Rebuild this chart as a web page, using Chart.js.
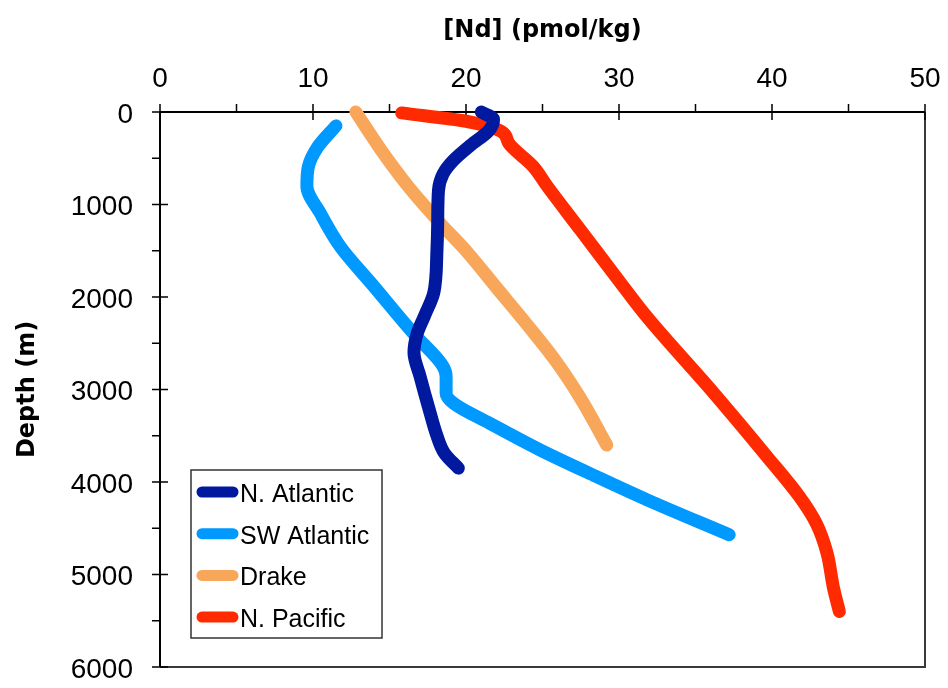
<!DOCTYPE html>
<html>
<head>
<meta charset="utf-8">
<script src="https://cdn.jsdelivr.net/npm/chart.js@4/dist/chart.umd.min.js"></script>
<style>
  body { margin: 0; background: #fff; }
  canvas { display: block; }
</style>
</head>
<body>
<canvas id="chart" width="948" height="688"></canvas>
<script>
"use strict";

// Nd concentration profiles, depth in metres
const seriesNames = ["N. Atlantic", "SW Atlantic", "Drake", "N. Pacific"];
const seriesColors = ["#00199e", "#0099ff", "#f8a65a", "#ff2a00"];

const nAtlanticDepth = [0, 80, 200, 360, 520, 670, 850, 1200, 1500, 1950, 2200, 2400, 2600, 2860, 3220, 3500, 3690, 3850];
const nAtlanticNd = [21.0, 21.8, 21.5, 20.3, 19.2, 18.5, 18.2, 18.15, 18.1, 17.9, 17.3, 16.8, 16.6, 17.0, 17.6, 18.1, 18.6, 19.5];

const swAtlanticDepth = [150, 380, 590, 800, 1100, 1460, 1870, 2400, 2750, 2860, 3040, 3150, 3370, 3650, 3940, 4190, 4570];
const swAtlanticNd = [11.5, 10.3, 9.7, 9.6, 10.5, 11.8, 13.9, 16.6, 18.5, 18.7, 18.7, 19.2, 21.6, 24.8, 28.5, 31.8, 37.2];

const drakeDepth = [0, 400, 800, 1200, 1500, 1900, 2300, 2700, 3100, 3600];
const drakeNd = [12.8, 14.4, 16.2, 18.3, 20.0, 22.0, 24.0, 25.9, 27.5, 29.2];

const nPacificDepth = [10, 100, 210, 340, 590, 800, 1280, 1890, 2210, 3040, 3730, 4160, 4450, 4770, 5130, 5400];
const nPacificNd = [15.8, 20.0, 22.3, 22.8, 24.4, 25.3, 27.5, 30.3, 31.8, 36.2, 39.7, 41.8, 42.9, 43.6, 44.0, 44.4];

const ndTicks = [0, 10, 20, 30, 40, 50];
const depthTicks = [0, 1000, 2000, 3000, 4000, 5000, 6000];

const profiles = [
  [nAtlanticNd, nAtlanticDepth],
  [swAtlanticNd, swAtlanticDepth],
  [drakeNd, drakeDepth],
  [nPacificNd, nPacificDepth],
];

function toPoints(nd, depth) {
  let pts = [];
  for (let i = 0; i < nd.length; i++) {
    pts.push({ x: nd[i], y: depth[i] });
  }
  return pts;
}

const datasets = profiles.map(function (p, i) {
  return {
    label: seriesNames[i],
    data: toPoints(p[0], p[1]),
    showLine: true,
    borderColor: seriesColors[i],
    backgroundColor: seriesColors[i],
    borderWidth: 13,
    borderCapStyle: "round",
    borderJoinStyle: "round",
    pointRadius: 0,
    cubicInterpolationMode: "monotone",
    clip: false,
  };
});

const labelFont = { family: "'Liberation Sans', Arial, sans-serif", size: 28 };
const titleFont = { family: "'DejaVu Sans', Verdana, sans-serif", size: 24, weight: "bold" };

// frame plus crossing major ticks and outside minor ticks
const axisFrame = {
  id: "axisFrame",
  beforeDatasetsDraw(chart) {
    const ctx = chart.ctx;
    const a = chart.chartArea;
    const x = chart.scales.x;
    const y = chart.scales.y;
    ctx.save();
    ctx.lineCap = "butt";

    ctx.strokeStyle = "#3a3a3a";
    ctx.lineWidth = 2;
    ctx.beginPath();
    ctx.moveTo(a.right, a.top);
    ctx.lineTo(a.right, a.bottom);
    ctx.lineTo(a.left, a.bottom);
    ctx.stroke();

    ctx.strokeStyle = "#000";
    ctx.beginPath();
    ctx.moveTo(a.left, a.bottom);
    ctx.lineTo(a.left, a.top);
    ctx.lineTo(a.right, a.top);
    ctx.stroke();

    ctx.lineWidth = 1.5;
    ctx.beginPath();
    for (let v = 0; v <= 50; v += 5) {
      const px = x.getPixelForValue(v);
      const major = v % 10 === 0;
      ctx.moveTo(px, a.top - 8);
      ctx.lineTo(px, major ? a.top + 8 : a.top);
    }
    for (let d = 0; d <= 6000; d += 500) {
      const py = y.getPixelForValue(d);
      const major = d % 1000 === 0;
      ctx.moveTo(a.left - 8, py);
      ctx.lineTo(major ? a.left + 8 : a.left, py);
    }
    ctx.stroke();
    ctx.restore();
  },
};

// boxed legend sitting inside the plot, lower left
const boxLegend = {
  id: "boxLegend",
  afterDatasetsDraw(chart) {
    const ctx = chart.ctx;
    const a = chart.chartArea;
    const left = a.left + 31;
    const top = a.top + 358;
    const w = 191;
    const h = 168;
    ctx.save();
    ctx.fillStyle = "#fff";
    ctx.fillRect(left, top, w, h);
    ctx.strokeStyle = "#333";
    ctx.lineWidth = 1.5;
    ctx.strokeRect(left, top, w, h);

    ctx.font = "25px 'Liberation Sans', Arial, sans-serif";
    ctx.textBaseline = "middle";
    ctx.textAlign = "left";
    chart.data.datasets.forEach(function (ds, i) {
      const rowY = top + 22 + i * 41.7;
      ctx.strokeStyle = ds.borderColor;
      ctx.lineWidth = 11;
      ctx.lineCap = "round";
      ctx.beginPath();
      ctx.moveTo(left + 11, rowY);
      ctx.lineTo(left + 42, rowY);
      ctx.stroke();
      ctx.fillStyle = "#000";
      ctx.fillText(ds.label, left + 49, rowY + 3);
    });
    ctx.restore();
  },
};

const config = {
  type: "scatter",
  data: { datasets: datasets },
  options: {
    responsive: false,
    animation: false,
    indexAxis: "y",
    layout: { padding: { top: 0, left: 0, right: 23, bottom: 21 } },
    plugins: {
      legend: { display: false },
      tooltip: { enabled: false },
    },
    scales: {
      x: {
        type: "linear",
        position: "top",
        min: 0,
        max: 50,
        grid: { display: false, drawTicks: false },
        border: { display: false },
        afterBuildTicks(scale) {
          scale.ticks = ndTicks.map(function (v) { return { value: v }; });
        },
        afterFit(scale) {
          scale.height = 112;
          scale.paddingLeft = 0;
          scale.paddingRight = 0;
        },
        ticks: {
          color: "#000",
          font: labelFont,
          padding: 16,
          maxRotation: 0,
          callback: function (v) { return String(v); },
        },
        title: {
          display: true,
          text: "[Nd] (pmol/kg)",
          color: "#000",
          font: titleFont,
          padding: { top: 16, bottom: 0 },
        },
      },
      y: {
        type: "linear",
        position: "left",
        reverse: true,
        min: 0,
        max: 6000,
        grid: { display: false, drawTicks: false },
        border: { display: false },
        afterBuildTicks(scale) {
          scale.ticks = depthTicks.map(function (v) { return { value: v }; });
        },
        afterFit(scale) {
          scale.width = 160;
          scale.paddingTop = 0;
          scale.paddingBottom = 0;
        },
        ticks: {
          color: "#000",
          font: labelFont,
          padding: 27,
          labelOffset: 3,
          callback: function (v) { return String(v); },
        },
        title: {
          display: true,
          text: "Depth (m)",
          color: "#000",
          font: titleFont,
          padding: { top: 13, bottom: 0 },
        },
      },
    },
  },
  plugins: [axisFrame, boxLegend],
};

const ndChart = new Chart(document.getElementById("chart"), config);
</script>
</body>
</html>
